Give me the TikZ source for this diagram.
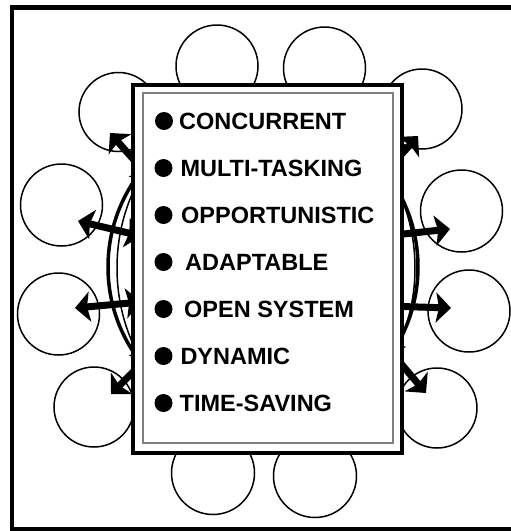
\documentclass[tikz,border=0pt]{standalone}
\usepackage{fontspec}
\setmainfont{Liberation Sans}
\usetikzlibrary{arrows.meta}

\begin{document}
\begin{tikzpicture}
	[x=1pt, y=-1pt,
	seat/.style={circle,draw,line width=1.5pt,minimum size=82pt,inner sep=0pt},
	ray/.style={line width=7pt,{Stealth[length=15pt,width=30pt,inset=3pt]}-{Stealth[length=15pt,width=30pt,inset=3pt]}},
	bullet/.style={circle,fill,inner sep=0pt,minimum size=18pt},
	entry/.style={anchor=base west,inner sep=0pt,font=\fontsize{23.5}{28}\selectfont\bfseries}]
	\useasboundingbox (0,0) rectangle (511,531);
	\draw [line width=4.5pt] (12,7.5) rectangle (516,529);
	% seats round the table
	\node (t1) [seat] at (217,66) {};
	\node (t2) [seat] at (324.5,68) {};
	\node (l1) [seat,minimum size=79pt] at (118.5,112) {};
	\node (l2) [seat] at (61.5,205) {};
	\node (l3) [seat] at (58.5,314) {};
	\node (l4) [seat,minimum size=80pt] at (94,407) {};
	\node (r1) [seat,minimum size=80pt] at (422,109) {};
	\node (r2) [seat] at (461.5,211) {};
	\node (r3) [seat] at (469,311) {};
	\node (r4) [seat,minimum size=80pt] at (437,408) {};
	\node (b1) [seat,minimum size=83pt] at (213,473) {};
	\node (b2) [seat,minimum size=83pt] at (315,476) {};
	\draw [line width=3.5pt] (263,267) circle [radius=155pt];
	\draw [line width=1.5pt] (266,268) ellipse [x radius=149pt, y radius=168pt];
	\coordinate (lin1) at (150,178);
	\coordinate (lout1) at (110,133);
	\coordinate (lin2) at (141,236);
	\coordinate (lout2) at (78,221);
	\coordinate (lin3) at (141,302);
	\coordinate (lout3) at (75,308);
	\coordinate (lin4) at (150,355);
	\coordinate (lout4) at (111,394);
	\coordinate (rin1) at (380,178);
	\coordinate (rout1) at (418,136);
	\coordinate (rin2) at (385,236);
	\coordinate (rout2) at (450,229);
	\coordinate (rin3) at (385,306);
	\coordinate (rout3) at (451,308);
	\coordinate (rin4) at (385,345);
	\coordinate (rout4) at (426,393);
	\draw [ray] (lin1) -- (lout1);
	\draw [ray] (lin2) -- (lout2);
	\draw [ray] (lin3) -- (lout3);
	\draw [ray] (lin4) -- (lout4);
	\draw [ray] (rin1) -- (rout1);
	\draw [ray] (rin2) -- (rout2);
	\draw [ray] (rin3) -- (rout3);
	\draw [ray] (rin4) -- (rout4);
	% the table
	\node (table) [draw,fill=white,line width=4pt,minimum width=269.5pt,minimum height=368pt] at (267.25,268.5) {};
	\node (inner) [draw=gray,line width=1.2pt,minimum width=250pt,minimum height=350pt] at (268,268) {};
	\node (d1) [bullet] at (164,121) {};
	\node (d2) [bullet] at (163.5,168) {};
	\node (d3) [bullet] at (163.5,215) {};
	\node (d4) [bullet] at (163.5,262) {};
	\node (d5) [bullet] at (163.5,309) {};
	\node (d6) [bullet] at (163.5,356) {};
	\node (d7) [bullet] at (163.5,403) {};
	\node (concurrent) [entry] at (179,129.4) {CONCURRENT};
	\node (multi) [entry] at (180.3,176.4) {MULTI-TASKING};
	\node (opport) [entry] at (181,223.4) {OPPORTUNISTIC};
	\node (adapt) [entry] at (185,270.4) {ADAPTABLE};
	\node (open) [entry] at (184,317.4) {OPEN SYSTEM};
	\node (dynamic) [entry] at (180.3,364.4) {DYNAMIC};
	\node (timesave) [entry] at (179.5,411.4) {TIME-SAVING};
\end{tikzpicture}
\end{document}
